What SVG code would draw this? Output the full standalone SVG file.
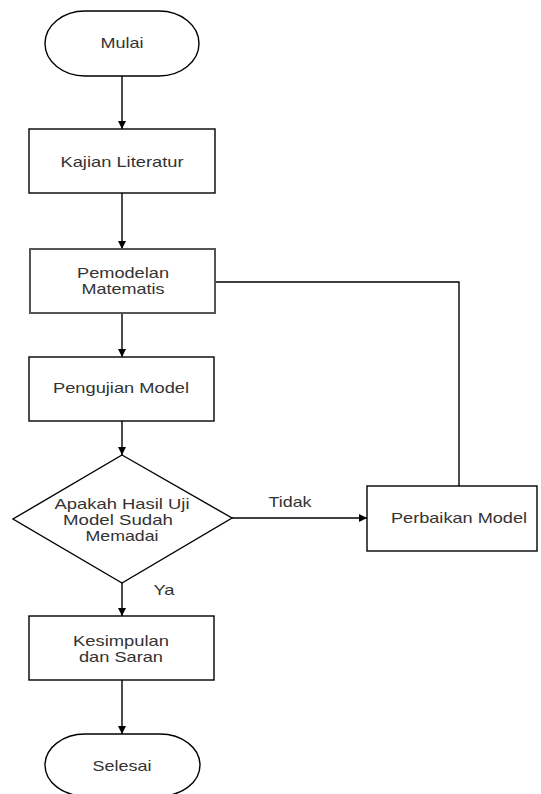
<svg xmlns="http://www.w3.org/2000/svg" width="541" height="794" viewBox="0 0 541 794">
<style>
.shape{fill:#fff;stroke:#000;stroke-width:1.4}
.lbl{font-family:"Liberation Sans",Arial,sans-serif;font-size:14.5px;fill:#333;text-anchor:middle}
.edge{fill:none;stroke:#000;stroke-width:1.4}
</style>
<defs>
<marker id="arr" viewBox="0 0 10 10" refX="10" refY="5" markerWidth="8" markerHeight="8" markerUnits="userSpaceOnUse" orient="auto">
<path d="M0,0 L10,5 L0,10 Z" fill="#000"/>
</marker>
</defs>
<rect width="541" height="794" fill="#fff"/>
<g id="connectors">
<line class="edge" x1="122" y1="76" x2="122" y2="129" marker-end="url(#arr)"/>
<line class="edge" x1="122" y1="193" x2="122" y2="249" marker-end="url(#arr)"/>
<line class="edge" x1="122" y1="313" x2="122" y2="357" marker-end="url(#arr)"/>
<line class="edge" x1="122" y1="421" x2="122" y2="455" marker-end="url(#arr)"/>
<line class="edge" x1="122" y1="583" x2="122" y2="616" marker-end="url(#arr)"/>
<line class="edge" x1="122" y1="680" x2="122" y2="734" marker-end="url(#arr)"/>
<line class="edge" x1="232" y1="518" x2="367" y2="518" marker-end="url(#arr)"/>
<polyline class="edge" points="459,486 459,282 215,282"/>
<text class="lbl" x="290" y="507" textLength="43" lengthAdjust="spacingAndGlyphs">Tidak</text>
<text class="lbl" x="164" y="595" textLength="21" lengthAdjust="spacingAndGlyphs">Ya</text>
</g>
<g id="mulai">
<rect class="shape" x="45" y="11" width="154" height="65" rx="40" ry="32.5"/>
<text class="lbl" x="122" y="48" textLength="43" lengthAdjust="spacingAndGlyphs">Mulai</text>
</g>
<g id="kajian">
<rect class="shape" x="29" y="129" width="186" height="64"/>
<text class="lbl" x="122" y="167" textLength="123" lengthAdjust="spacingAndGlyphs">Kajian Literatur</text>
</g>
<g id="pemodelan">
<rect class="shape" x="30" y="249" width="185" height="64" style="stroke:#555;stroke-width:2"/>
<text class="lbl" x="123" y="278" textLength="92" lengthAdjust="spacingAndGlyphs">Pemodelan</text>
<text class="lbl" x="123" y="294" textLength="83" lengthAdjust="spacingAndGlyphs">Matematis</text>
</g>
<g id="pengujian">
<rect class="shape" x="29" y="357" width="185" height="64"/>
<text class="lbl" x="121" y="393" textLength="136" lengthAdjust="spacingAndGlyphs">Pengujian Model</text>
</g>
<g id="keputusan">
<polygon class="shape" points="122,455 232,518 122,583 13,519"/>
<text class="lbl" x="122" y="509" textLength="135" lengthAdjust="spacingAndGlyphs">Apakah Hasil Uji</text>
<text class="lbl" x="118" y="525" textLength="110" lengthAdjust="spacingAndGlyphs">Model Sudah</text>
<text class="lbl" x="122" y="541" textLength="73" lengthAdjust="spacingAndGlyphs">Memadai</text>
</g>
<g id="perbaikan">
<rect class="shape" x="367" y="486" width="170" height="65"/>
<text class="lbl" x="459" y="523" textLength="136" lengthAdjust="spacingAndGlyphs">Perbaikan Model</text>
</g>
<g id="kesimpulan">
<rect class="shape" x="29" y="616" width="185" height="64"/>
<text class="lbl" x="121" y="646" textLength="96" lengthAdjust="spacingAndGlyphs">Kesimpulan</text>
<text class="lbl" x="121" y="662" textLength="84" lengthAdjust="spacingAndGlyphs">dan Saran</text>
</g>
<g id="selesai">
<rect class="shape" x="45" y="734" width="155" height="62" rx="40" ry="31"/>
<text class="lbl" x="122" y="771" textLength="59" lengthAdjust="spacingAndGlyphs">Selesai</text>
</g>
</svg>
